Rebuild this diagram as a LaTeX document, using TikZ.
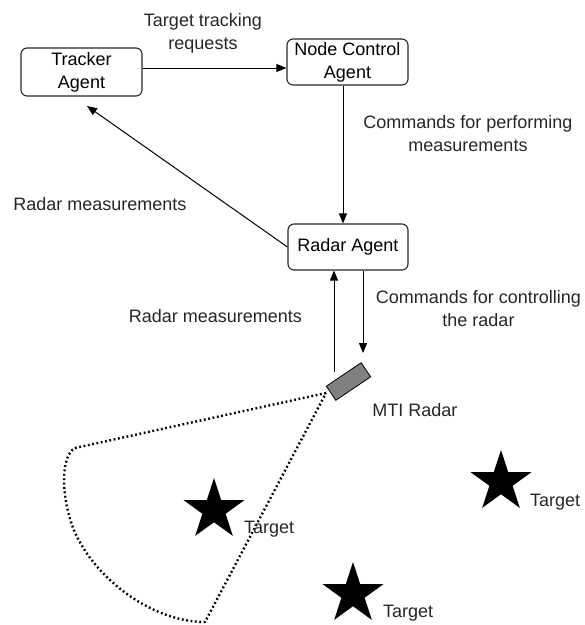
\documentclass[tikz,border=0pt]{standalone}
\usepackage{fontspec}
\setmainfont{Liberation Sans}
\usetikzlibrary{arrows.meta,shapes.geometric}
\begin{document}
\begin{tikzpicture}[x=1pt,y=-1pt,
  font=\fontsize{18}{23}\selectfont,
  agent/.style={draw=black!85,line width=1.1pt,rounded corners=6pt,align=center,inner sep=0pt},
  conn/.style={line width=1pt,-{Triangle[length=10pt,width=8pt]}},
  lbl/.style={align=center,inner sep=0pt,text=black!85},
  targetstar/.style={star,star points=5,star point ratio=2.618,fill=black,draw=none,inner sep=0pt,minimum size=64pt},
  beam/.style={line width=2.4pt,dash pattern=on 1.8pt off 2.6pt}]
\useasboundingbox (0,0) rectangle (585,625);

% agents
\node[agent,minimum width=121pt,minimum height=48pt] (trk) at (81.5,72) {Tracker\\Agent};
\node[agent,minimum width=121pt,minimum height=46pt] (nca) at (347.5,62) {Node Control\\Agent};
\node[agent,minimum width=120pt,minimum height=46pt] (ra) at (348,247) {Radar Agent};

% radar
\node[draw=black,fill=black!50,line width=0.8pt,minimum width=42pt,minimum height=17pt,inner sep=0pt,rotate=34] (radar) at (348.5,381.5) {};
\node[lbl,anchor=base] (mtilbl) at (415,416) {MTI Radar};

% free ends
\coordinate (trkin) at (87,106);
\coordinate (upstart) at (334,372);
\coordinate (downend) at (363,353);
\coordinate (apex) at (326,393);

% connectors
\draw[conn] (trk.east |- 0,68) -- (nca.west |- 0,68);
\draw[conn] (nca.south -| 343,0) -- (ra.north -| 343,0);
\draw[conn] (ra.west) -- (trkin);
\draw[conn] (upstart) -- (upstart |- ra.south);
\draw[conn] (downend |- ra.south) -- (downend);

% labels
\node[lbl] (l1) at (203,33) {Target tracking\\requests};
\node[lbl] (l2) at (468,134) {Commands for performing\\measurements};
\node[lbl] (l3) at (100,204.5) {Radar measurements};
\node[lbl] (l4) at (215.5,316) {Radar measurements};
\node[lbl] (l5) at (478.5,309) {Commands for controlling\\the radar};

% beam
\draw[beam] (apex) -- (75,448) .. controls (62,455) and (60,490) .. (72,525)
   .. controls (90,575) and (150,622) .. (205,622) -- (apex);

% targets
\node[targetstar] (t1) at (214,510) {};
\node[targetstar] (t2) at (501,482) {};
\node[targetstar] (t3) at (353,594) {};
\node[lbl,anchor=base west] (t1l) at (244,533) {Target};
\node[lbl,anchor=base west] (t2l) at (530,506) {Target};
\node[lbl,anchor=base west] (t3l) at (383,617) {Target};
\end{tikzpicture}
\end{document}
